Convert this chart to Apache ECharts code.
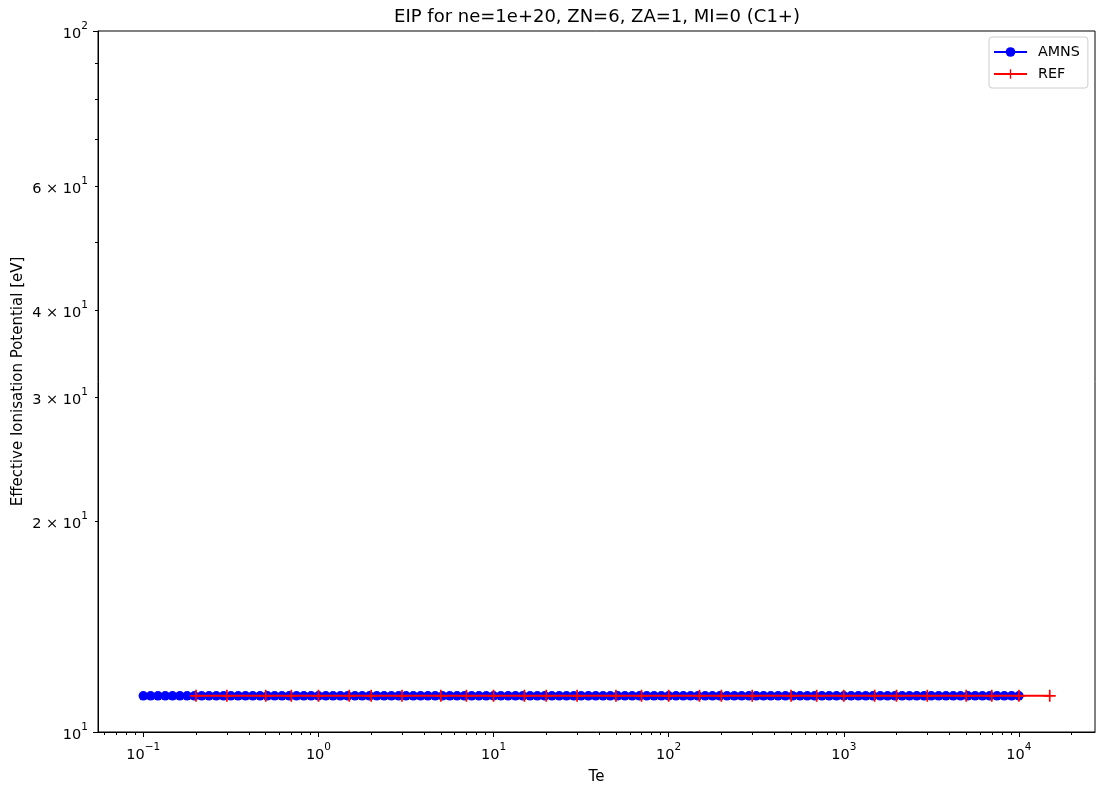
<!DOCTYPE html>
<html>
<head>
<meta charset="utf-8">
<script src="https://cdn.jsdelivr.net/npm/echarts@6/dist/echarts.min.js"></script>
<style>
  html, body { margin: 0; padding: 0; background: #ffffff; }
  #chart { width: 1097px; height: 794px; }
</style>
</head>
<body>
<div id="chart"></div>
<script>
// Electron temperature grid of the AMNS table [eV]
const amnsTe = [
  0.1, 0.1101, 0.1212, 0.1334, 0.1468, 0.1616, 0.1778, 0.1957, 0.2154, 0.2371, 0.2610, 0.2873,
  0.3162, 0.3481, 0.3831, 0.4217, 0.4642, 0.5109, 0.5623, 0.6190, 0.6813, 0.7499, 0.8254, 0.9085,
  1, 1.101, 1.212, 1.334, 1.468, 1.616, 1.778, 1.957, 2.154, 2.371, 2.610, 2.873,
  3.162, 3.481, 3.831, 4.217, 4.642, 5.109, 5.623, 6.190, 6.813, 7.499, 8.254, 9.085,
  10, 11.01, 12.12, 13.34, 14.68, 16.16, 17.78, 19.57, 21.54, 23.71, 26.10, 28.73,
  31.62, 34.81, 38.31, 42.17, 46.42, 51.09, 56.23, 61.90, 68.13, 74.99, 82.54, 90.85,
  100, 110.1, 121.2, 133.4, 146.8, 161.6, 177.8, 195.7, 215.4, 237.1, 261.0, 287.3,
  316.2, 348.1, 383.1, 421.7, 464.2, 510.9, 562.3, 619.0, 681.3, 749.9, 825.4, 908.5,
  1000, 1101, 1212, 1334, 1468, 1616, 1778, 1957, 2154, 2371, 2610, 2873,
  3162, 3481, 3831, 4217, 4642, 5109, 5623, 6190, 6813, 7499, 8254, 9085,
  10000
];

// Effective ionisation potential from AMNS [eV]
const amnsEip = [
  11.26, 11.26, 11.26, 11.26, 11.26, 11.26, 11.26, 11.26, 11.26, 11.26, 11.26, 11.26,
  11.26, 11.26, 11.26, 11.26, 11.26, 11.26, 11.26, 11.26, 11.26, 11.26, 11.26, 11.26,
  11.26, 11.26, 11.26, 11.26, 11.26, 11.26, 11.26, 11.26, 11.26, 11.26, 11.26, 11.26,
  11.26, 11.26, 11.26, 11.26, 11.26, 11.26, 11.26, 11.26, 11.26, 11.26, 11.26, 11.26,
  11.26, 11.26, 11.26, 11.26, 11.26, 11.26, 11.26, 11.26, 11.26, 11.26, 11.26, 11.26,
  11.26, 11.26, 11.26, 11.26, 11.26, 11.26, 11.26, 11.26, 11.26, 11.26, 11.26, 11.26,
  11.26, 11.26, 11.26, 11.26, 11.26, 11.26, 11.26, 11.26, 11.26, 11.26, 11.26, 11.26,
  11.26, 11.26, 11.26, 11.26, 11.26, 11.26, 11.26, 11.26, 11.26, 11.26, 11.26, 11.26,
  11.26, 11.26, 11.26, 11.26, 11.26, 11.26, 11.26, 11.26, 11.26, 11.26, 11.26, 11.26,
  11.26, 11.26, 11.26, 11.26, 11.26, 11.26, 11.26, 11.26, 11.26, 11.26, 11.26, 11.26,
  11.26
];

// Reference temperature grid [eV] and reference values [eV]
const refTe = [
  0.2, 0.3, 0.5, 0.7, 1, 1.5, 2, 3, 5, 7, 10, 15, 20, 30, 50, 70,
  100, 150, 200, 300, 500, 700, 1000, 1500, 2000, 3000, 5000, 7000, 10000, 15000
];
const refEip = [
  11.26, 11.26, 11.26, 11.26, 11.26, 11.26, 11.26, 11.26, 11.26, 11.26, 11.26, 11.26, 11.26, 11.26, 11.26, 11.26,
  11.26, 11.26, 11.26, 11.26, 11.26, 11.26, 11.26, 11.26, 11.26, 11.26, 11.26, 11.26, 11.26, 11.26
];

// Tick positions
const xMajorTicks = [0.1, 1, 10, 100, 1000, 10000];
const xMinorTicks = [
  0.06, 0.07, 0.08, 0.09,
  0.2, 0.3, 0.4, 0.5, 0.6, 0.7, 0.8, 0.9,
  2, 3, 4, 5, 6, 7, 8, 9,
  20, 30, 40, 50, 60, 70, 80, 90,
  200, 300, 400, 500, 600, 700, 800, 900,
  2000, 3000, 4000, 5000, 6000, 7000, 8000, 9000,
  20000
];
const yMajorTicks = [10, 100];
const yMinorTicks = [20, 30, 40, 50, 60, 70, 80, 90];
const yLabelTicks = [10, 20, 30, 40, 60, 100];

const FONT = 'DejaVu Sans';

// "10^e" / "m × 10^e" tick labels in rich text
function sciLabel(v) {
  const e = Math.floor(Math.log10(v) + 1e-9);
  const m = Math.round(v / Math.pow(10, e));
  const exp = (e < 0 ? '\u2212' : '') + Math.abs(e);
  const base = m === 1 ? '10' : m + ' \u00d7 10';
  return '{b|' + base + '}{s|' + exp + '}';
}

const richLabel = {
  b: { fontFamily: FONT, fontSize: 14.5, color: '#000', lineHeight: 21, verticalAlign: 'bottom' },
  s: { fontFamily: FONT, fontSize: 10.5, color: '#000', lineHeight: 13, verticalAlign: 'top' }
};

// Thin plus marker
const PLUS = 'path://M4.3,0L5.7,0L5.7,4.3L10,4.3L10,5.7L5.7,5.7L5.7,10L4.3,10L4.3,5.7L0,5.7L0,4.3L4.3,4.3Z';

const X_MIN = 0.0551, X_MAX = 27200;

const chart = echarts.init(document.getElementById('chart'), null, { renderer: 'canvas' });

chart.setOption({
  animation: false,
  backgroundColor: '#ffffff',
  title: {
    text: 'EIP for ne=1e+20, ZN=6, ZA=1, MI=0 (C1+)',
    left: 592,
    top: 3,
    textAlign: 'center',
    textStyle: { fontFamily: FONT, fontSize: 18, fontWeight: 'normal', color: '#000' }
  },
  legend: {
    left: 989,
    top: 37,
    orient: 'vertical',
    itemWidth: 33,
    itemHeight: 12,
    itemGap: 8,
    padding: [8, 8, 7, 4],
    backgroundColor: 'rgba(255,255,255,0.8)',
    borderColor: '#cccccc',
    borderWidth: 1,
    borderRadius: 3,
    textStyle: { fontFamily: FONT, fontSize: 14.3, color: '#000', padding: [0, 0, 0, 6] },
    data: ['AMNS', 'REF']
  },
  grid: {
    left: 98, right: 2, top: 31, bottom: 62,
    show: true, borderColor: '#000', borderWidth: 1, backgroundColor: 'transparent'
  },
  xAxis: [
    {
      type: 'log', logBase: 10, min: X_MIN, max: X_MAX, position: 'bottom',
      name: 'Te', nameLocation: 'middle', nameGap: 38,
      nameTextStyle: { fontFamily: FONT, fontSize: 15, color: '#000' },
      axisLine: { show: true, lineStyle: { color: '#000', width: 1 } },
      axisTick: { show: true, length: 5, lineStyle: { color: '#000', width: 1 }, customValues: xMajorTicks },
      axisLabel: { margin: 10, formatter: sciLabel, rich: richLabel, customValues: xMajorTicks },
      splitLine: { show: false }
    },
    {
      type: 'log', logBase: 10, min: X_MIN, max: X_MAX, position: 'bottom',
      axisLine: { show: false },
      axisTick: { show: true, length: 3, lineStyle: { color: '#000', width: 1 }, customValues: xMinorTicks },
      axisLabel: { show: false },
      splitLine: { show: false }
    }
  ],
  yAxis: [
    {
      type: 'log', logBase: 10, min: 10, max: 100, position: 'left',
      name: 'Effective Ionisation Potential [eV]', nameLocation: 'middle', nameGap: 72,
      nameMoveOverlap: false,
      nameTextStyle: { fontFamily: FONT, fontSize: 15, color: '#000' },
      axisLine: { show: true, lineStyle: { color: '#000', width: 1 } },
      axisTick: { show: true, length: 5, lineStyle: { color: '#000', width: 1 }, customValues: yMajorTicks },
      axisLabel: { margin: 10, formatter: sciLabel, rich: richLabel, customValues: yLabelTicks },
      splitLine: { show: false }
    },
    {
      type: 'log', logBase: 10, min: 10, max: 100, position: 'left',
      axisLine: { show: false },
      axisTick: { show: true, length: 3, lineStyle: { color: '#000', width: 1 }, customValues: yMinorTicks },
      axisLabel: { show: false },
      splitLine: { show: false }
    }
  ],
  series: [
    {
      name: 'AMNS',
      type: 'line',
      xAxisIndex: 0, yAxisIndex: 0,
      data: amnsTe.map((t, i) => [t, amnsEip[i]]),
      symbol: 'circle',
      symbolSize: 9.5,
      showSymbol: true,
      showAllSymbol: true,
      itemStyle: { color: '#0000ff' },
      lineStyle: { color: '#0000ff', width: 2 },
      emphasis: { disabled: true },
      z: 2
    },
    {
      name: 'REF',
      type: 'line',
      xAxisIndex: 0, yAxisIndex: 0,
      data: refTe.map((t, i) => [t, refEip[i]]),
      symbol: PLUS,
      symbolSize: 12,
      symbolKeepAspect: true,
      showSymbol: true,
      showAllSymbol: true,
      itemStyle: { color: '#ff0000' },
      lineStyle: { color: '#ff0000', width: 2 },
      emphasis: { disabled: true },
      z: 3
    }
  ]
});
</script>
</body>
</html>
